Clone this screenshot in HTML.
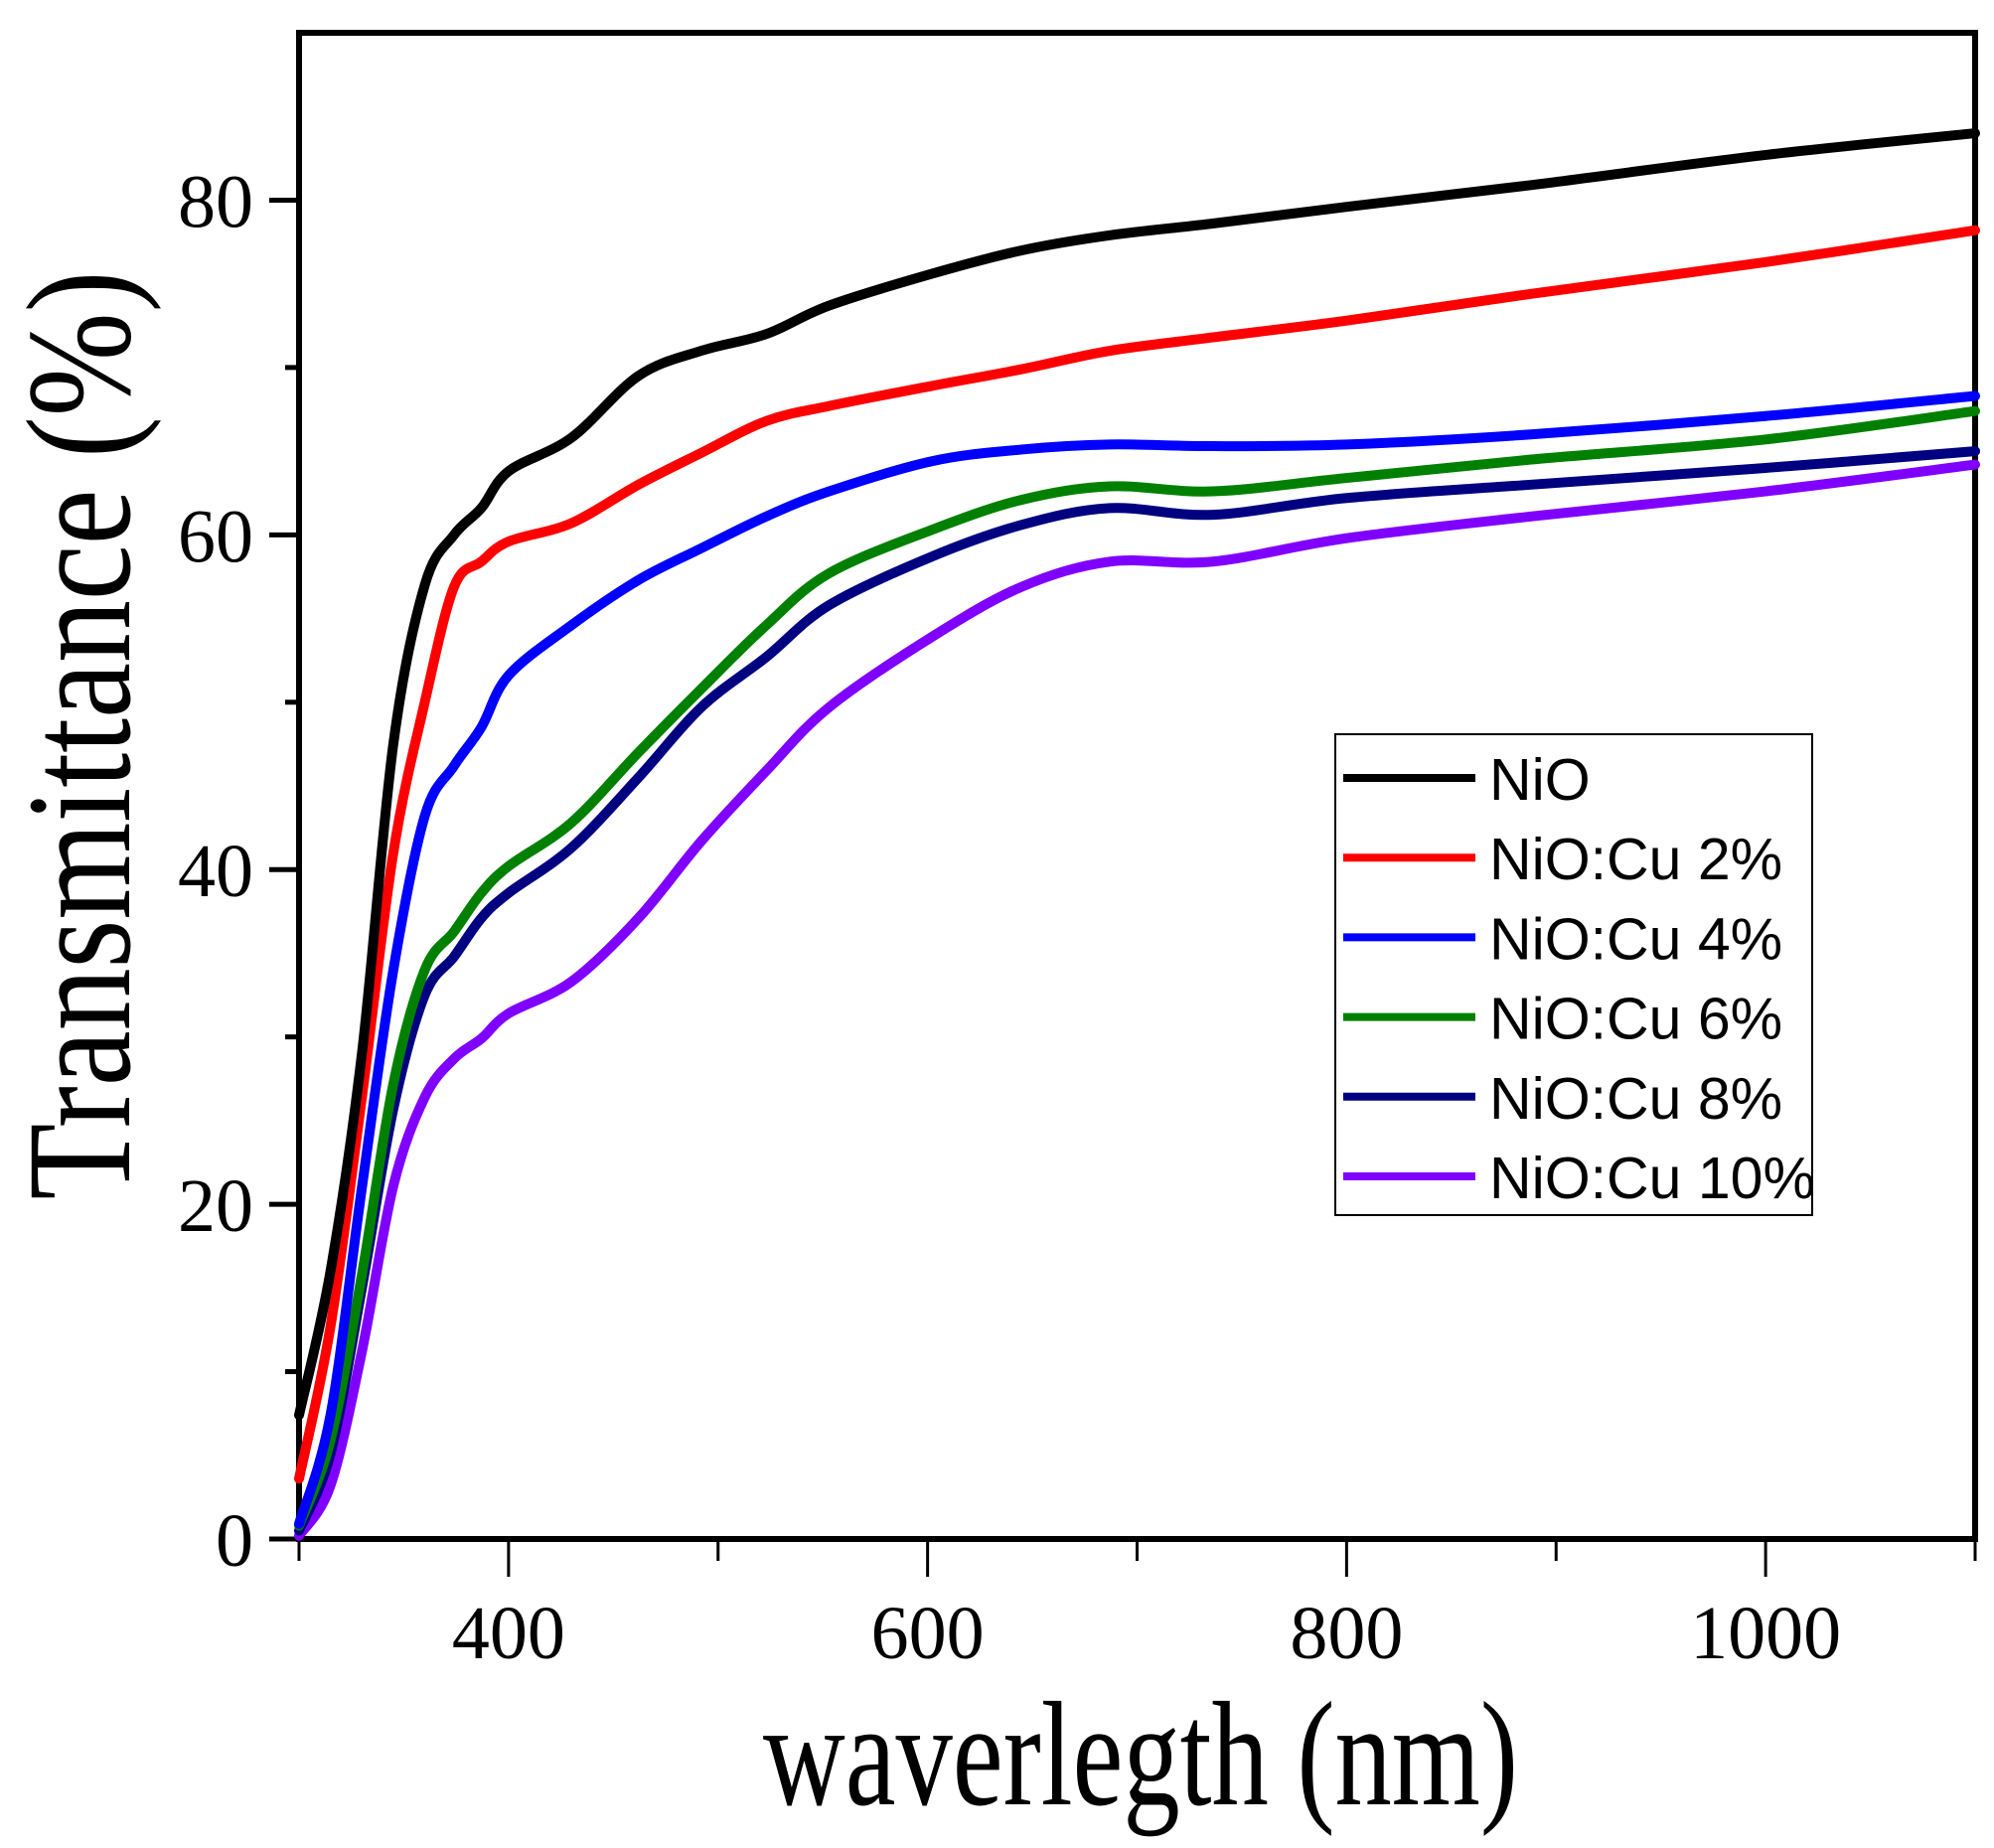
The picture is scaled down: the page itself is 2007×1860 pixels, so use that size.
<!DOCTYPE html>
<html><head><meta charset="utf-8"><style>
html,body{margin:0;padding:0;background:#fff;}
svg{display:block;}
</style></head><body>
<svg id="chart" width="2007" height="1860" viewBox="0 0 2007 1860" xmlns="http://www.w3.org/2000/svg">
<rect width="2007" height="1860" fill="#fff"/>
<g id="axes"></g>
<g id="series"></g>
<text x="1148" y="1816" font-family="Liberation Serif, serif" font-size="150" text-anchor="middle" textLength="760" lengthAdjust="spacingAndGlyphs">waverlegth (nm)</text>
<text transform="translate(130,740) rotate(-90)" font-family="Liberation Serif, serif" font-size="150" text-anchor="middle" textLength="935" lengthAdjust="spacingAndGlyphs">Transmittance (%)</text>
<g id="legend"></g>
</svg>
<script>
const wavelengths=[300,315,330,345,360,374,387,400,430,462,492,523,553,602,645,687,736,800,888,1000,1100];
const seriesNames=["NiO","NiO:Cu 2%","NiO:Cu 4%","NiO:Cu 6%","NiO:Cu 8%","NiO:Cu 10%"];
const nio=[7.4,16,29,47.5,57,60,61.6,63.8,65.8,69.5,71,72,73.7,75.6,77,77.9,78.6,79.6,80.9,82.7,84.0];
const cu2=[3.6,12.7,26.4,41,50,56.9,58.4,59.6,60.7,63,64.9,66.8,67.7,68.9,69.9,71,71.8,72.8,74.4,76.3,78.2];
const cu4=[0.9,7.4,21,34,43.2,46.2,48.5,51.6,54.6,57.3,59.2,61.1,62.6,64.4,65.1,65.4,65.3,65.4,66,67.1,68.3];
const cu6=[0.8,5.9,15.8,27.2,34,36.3,38.6,40.2,42.8,47,50.8,54.6,57.7,60.3,62.1,62.9,62.6,63.4,64.5,65.7,67.4];
const cu8=[0.5,5.1,15,25.7,32.5,34.8,37.1,38.6,41.3,45.5,49.7,52.7,55.8,58.7,60.6,61.6,61.2,62.2,63,64,65];
const cu10=[0.2,3.2,11.2,21.1,26.4,28.7,29.9,31.4,33.3,37.1,41.7,45.9,49.7,53.9,56.9,58.4,58.4,59.8,61.1,62.6,64.2];
const xTicks=[400,600,800,1000];
const yTicks=[0,20,40,60,80];
const colors=["#000000","#ff0000","#0000ff","#008000","#000080","#8000ff"];
const allSeries=[nio,cu2,cu4,cu6,cu8,cu10];

const X0=301,X1=1988,Y0=1549,Y1=33;
const xs=v=>X0+(v-300)/(1100-300)*(X1-X0);
const ys=v=>Y0-(v-0)/(90-0)*(Y0-Y1);
const NS="http://www.w3.org/2000/svg";
function mk(tag,attrs,parent){const e=document.createElementNS(NS,tag);for(const k in attrs)e.setAttribute(k,attrs[k]);parent.appendChild(e);return e;}
const axes=document.getElementById('axes');
const frame=mk('rect',{x:X0,y:Y1,width:X1-X0,height:Y0-Y1,fill:'none',stroke:'#000','stroke-width':6},axes);


for(let v=300;v<=1100;v+=100){
  const major=xTicks.includes(v);
  const t=mk('line',{x1:xs(v),x2:xs(v),y1:Y0,y2:Y0+(major?38:22),stroke:'#000','stroke-width':3},axes);
  
  
}
xTicks.forEach(v=>{
  const t=mk('text',{x:xs(v),y:Y0+120,'font-family':'Liberation Serif, serif','font-size':76,'text-anchor':'middle'},axes);
  t.textContent=v;
  
  
});
for(let v=0;v<=80;v+=10){
  const major=yTicks.includes(v);
  const t=mk('line',{x1:X0,x2:X0-(major?30:14),y1:ys(v),y2:ys(v),stroke:'#000','stroke-width':5},axes);
  
  
}
yTicks.forEach(v=>{
  const t=mk('text',{x:X0-46,y:ys(v)+27,'font-family':'Liberation Serif, serif','font-size':76,'text-anchor':'end'},axes);
  t.textContent=v;
  
  
});
function pathFor(vals){
  const p=wavelengths.map((w,i)=>[xs(w),ys(vals[i])]);
  let d=`M${p[0][0]},${p[0][1]}`;
  for(let i=0;i<p.length-1;i++){
    const a=p[Math.max(0,i-1)],b=p[i],c=p[i+1],e=p[Math.min(p.length-1,i+2)];
    const c1=[b[0]+(c[0]-a[0])/6,b[1]+(c[1]-a[1])/6];
    const c2=[c[0]-(e[0]-b[0])/6,c[1]-(e[1]-b[1])/6];
    d+=` C${c1[0]},${c1[1]} ${c2[0]},${c2[1]} ${c[0]},${c[1]}`;
  }
  return d;
}
const sg=document.getElementById('series');
const lg=document.getElementById('legend');
const lb=mk('rect',{x:1344,y:739,width:480,height:484,fill:'#fff',stroke:'#000','stroke-width':2},lg);


for(let k=allSeries.length-1;k>=0;k--){
  const p=mk('path',{d:pathFor(allSeries[k]),fill:'none',stroke:colors[k],'stroke-width':10,'stroke-linejoin':'round','stroke-linecap':'round'},sg);
  
  
}
sg.parentNode.appendChild(lg);
seriesNames.forEach((n,k)=>{
  const y=783+k*80.2;
  const l=mk('line',{x1:1352,x2:1485,y1:y,y2:y,stroke:colors[k],'stroke-width':8},lg);
  
  
  const t=mk('text',{x:1499,y:y+22,'font-family':'Liberation Sans, sans-serif','font-size':59},lg);
  t.textContent=n;
  
  
});
</script>
</body></html>
